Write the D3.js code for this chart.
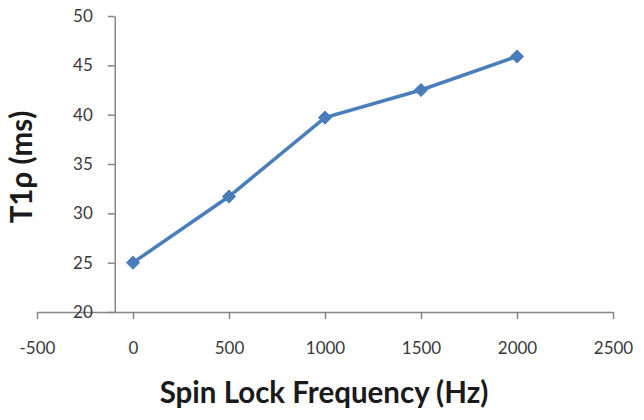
<!DOCTYPE html>
<html>
<head>
<meta charset="utf-8">
<script src="https://cdn.jsdelivr.net/npm/d3@7"></script>
<style>
  body { margin: 0; background: #fff; }
  svg { display: block; }
  .tick text { font-family: Lato, "Open Sans", sans-serif; fill: #3a3a3a; }
</style>
</head>
<body>
<div id="chart"></div>
<script>
// data
var freqs = [0, 500, 1000, 1500, 2000];
var t1rho = [25.0, 31.7, 39.7, 42.5, 45.9];
var xTicks = [-500, 0, 500, 1000, 1500, 2000, 2500];
var yTicks = [20, 25, 30, 35, 40, 45, 50];
var yAxisCrossAt = -95; // vertical axis sits a bit left of 0

var layout = {
    "width": 644,
    "height": 420,
    "left": 37, "right": 613,
    "top": 16, "bottom": 312
};

var svg = d3.select("#chart").append("svg")
    .attr("width", layout.width)
    .attr("height", layout.height);

var x = d3.scaleLinear().domain([-500, 2500]).range([layout.left, layout.right]);
var y = d3.scaleLinear().domain([20, 50]).range([layout.bottom, layout.top]);

var axisColor = "#868686";
var plain = d => String(d).replace("\u2212", "-");

// x axis
var gx = svg.append("g")
    .attr("transform", "translate(0," + y(20) + ")")
    .call(d3.axisBottom(x).tickValues(xTicks).tickFormat(plain)
        .tickSize(7).tickSizeOuter(0).tickPadding(23));
gx.select(".domain").attr("stroke", axisColor).attr("stroke-width", 1.5);
gx.selectAll(".tick line").attr("stroke", axisColor).attr("stroke-width", 1.5);
gx.selectAll(".tick text").attr("font-size", 17);

// y axis
var gy = svg.append("g")
    .attr("transform", "translate(" + x(yAxisCrossAt) + ",0)")
    .call(d3.axisLeft(y).tickValues(yTicks).tickFormat(plain)
        .tickSize(7).tickSizeOuter(0).tickPadding(15));
gy.select(".domain").attr("stroke", axisColor).attr("stroke-width", 1.5);
gy.selectAll(".tick line").attr("stroke", axisColor).attr("stroke-width", 1.5);
gy.selectAll(".tick text").attr("font-size", 17);

// series
var pts = freqs.map(function(f, i) { return [f, t1rho[i]]; });
var line = d3.line().x(d => x(d[0])).y(d => y(d[1]));

svg.append("path")
    .datum(pts)
    .attr("d", line)
    .attr("fill", "none")
    .attr("stroke", "#4a7ebb")
    .attr("stroke-width", 3.5);

svg.selectAll(".marker")
    .data(pts)
    .enter()
    .append("path")
    .attr("class", "marker")
    .attr("d", d3.symbol().type(d3.symbolDiamond2).size(110))
    .attr("transform", d => "translate(" + x(d[0]) + "," + y(d[1]) + ")")
    .attr("fill", "#4a7ebb")
    .attr("stroke", "#4a7ebb")
    .attr("stroke-width", 1);

// axis titles
svg.append("text")
    .attr("x", 324)
    .attr("y", 403)
    .attr("text-anchor", "middle")
    .attr("font-family", "Lato, 'Open Sans', sans-serif")
    .attr("font-weight", "bold")
    .attr("font-size", 29.5)
    .attr("fill", "#1a1a1a")
    .text("Spin Lock Frequency (Hz)");

svg.append("text")
    .attr("transform", "translate(32,167) rotate(-90)")
    .attr("text-anchor", "middle")
    .attr("font-family", "Lato, 'Open Sans', sans-serif")
    .attr("font-weight", "bold")
    .attr("font-size", 29.5)
    .attr("fill", "#1a1a1a")
    .text("T1ρ (ms)");
</script>
</body>
</html>
